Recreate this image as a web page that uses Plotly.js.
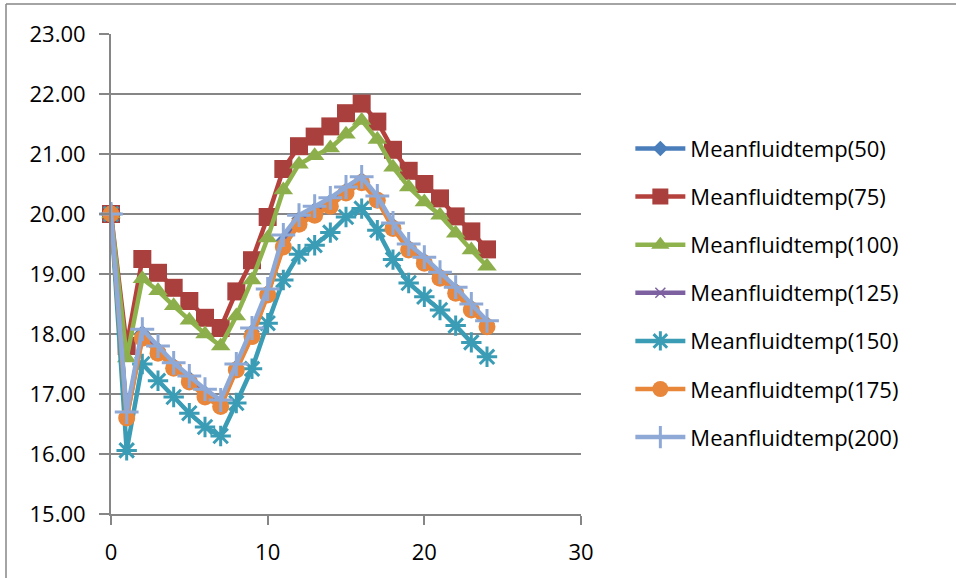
<!DOCTYPE html>
<html>
<head>
<meta charset="utf-8">
<script src="https://cdn.plot.ly/plotly-3.0.1.min.js"></script>
<style>html,body{margin:0;padding:0;background:#fff;}#chart{width:956px;height:578px;}</style>
</head>
<body>
<div id="chart"></div>
<script>
const hours = [0,1,2,3,4,5,6,7,8,9,10,11,12,13,14,15,16,17,18,19,20,21,22,23,24];
const names = ["Meanfluidtemp(50)","Meanfluidtemp(75)","Meanfluidtemp(100)","Meanfluidtemp(125)","Meanfluidtemp(150)","Meanfluidtemp(175)","Meanfluidtemp(200)"];
const t50  = [20.00,16.65,18.02,17.74,17.48,17.26,17.02,16.85,17.45,18.04,18.70,19.56,19.92,20.07,20.21,20.40,20.57,20.27,19.81,19.45,19.23,18.98,18.73,18.45,18.17];
const t75  = [20.00,17.80,19.25,19.02,18.77,18.55,18.27,18.10,18.71,19.23,19.95,20.75,21.13,21.29,21.46,21.68,21.84,21.54,21.07,20.72,20.50,20.26,19.96,19.71,19.41];
const t100 = [20.00,17.60,18.92,18.72,18.47,18.23,18.00,17.80,18.30,18.90,19.60,20.40,20.83,20.97,21.10,21.33,21.56,21.24,20.78,20.45,20.20,19.98,19.68,19.40,19.13];
const t125 = [20.00,16.62,17.96,17.70,17.45,17.22,16.97,16.81,17.42,17.98,18.67,19.48,19.86,20.00,20.15,20.37,20.54,20.25,19.78,19.42,19.20,18.95,18.70,18.42,18.14];
const t150 = [20.00,16.06,17.50,17.22,16.95,16.68,16.45,16.30,16.85,17.42,18.18,18.90,19.33,19.48,19.69,19.95,20.09,19.73,19.24,18.85,18.62,18.40,18.14,17.86,17.62];
const t175 = [20.00,16.60,17.93,17.68,17.43,17.20,16.95,16.79,17.40,17.96,18.65,19.45,19.83,19.98,20.13,20.35,20.52,20.23,19.76,19.40,19.18,18.93,18.68,18.40,18.12];
const t200 = [20.00,16.70,18.08,17.80,17.52,17.30,17.08,16.90,17.50,18.10,18.75,19.65,19.98,20.13,20.27,20.45,20.62,20.30,19.85,19.50,19.28,19.03,18.78,18.50,18.22];
const xTicks = [0,10,20,30];
const yTicks = [15,16,17,18,19,20,21,22,23];
const yTickText = ["15.00","16.00","17.00","18.00","19.00","20.00","21.00","22.00","23.00"];

const series = [t50,t75,t100,t125,t150,t175,t200];
const lineColors = ["#4A7EBB","#B5413D","#8FB34C","#7D60A0","#3B9CB5","#E8863A","#8FA9D6"];
const markerColors = ["#4A7EBB","#A9403D","#8CAF4C","#7D60A0","#3B9CB5","#E8873C","#8FA9D6"];
const symbols = ["diamond","square","triangle-up","x-thin-open","asterisk-open","circle","cross-thin-open"];
const sizes = [12,18,17,10,17,17,17];
const mlw = [0,0,0,1.5,3,0,3];

const traces = series.map((s,i)=>({
  x: hours, y: s, type:"scatter", mode:"lines+markers", name: names[i],
  legendgroup: "g"+i,
  line:{color: lineColors[i], width:4.5},
  marker:{symbol: symbols[i], size: sizes[i], color: markerColors[i], line:{width: mlw[i], color: lineColors[i]}},
  cliponaxis:false
}));

const fontFam = "'Open Sans', 'Noto Sans', sans-serif";
const layout = {
  width:956, height:578,
  margin:{l:111, r:375, t:34, b:64},
  paper_bgcolor:"#fff", plot_bgcolor:"#fff",
  showlegend:true,
  legend:{x:1.105, xanchor:"left", y:0.46, yanchor:"middle", font:{family:fontFam, size:22, color:"#000"}, tracegroupgap:16.5, itemwidth:50, bgcolor:"rgba(0,0,0,0)"},
  xaxis:{range:[0,30], tickvals:xTicks, ticktext:xTicks.map(String), showgrid:false, zeroline:false, showline:true, linecolor:"#868686", linewidth:2, ticks:"outside", ticklen:9, tickcolor:"#868686", tickwidth:2, tickfont:{family:fontFam, size:22, color:"#000"}, ticklabelstandoff:9, fixedrange:true},
  yaxis:{range:[15,23], tickvals:yTicks, ticktext:yTickText, showgrid:true, gridcolor:"#868686", gridwidth:2, zeroline:false, showline:true, linecolor:"#868686", linewidth:2, ticks:"outside", ticklen:10, tickcolor:"#868686", tickwidth:2, tickfont:{family:fontFam, size:22, color:"#000"}, ticklabelstandoff:9, fixedrange:true},
  shapes:[
    {type:"line", xref:"paper", yref:"paper", x0:-0.2234, x1:2.0, y0:1.0625, y1:1.0625, line:{color:"#868686", width:1.5}},
    {type:"line", xref:"paper", yref:"paper", x0:-0.2234, x1:-0.2234, y0:1.0625, y1:-0.2, line:{color:"#868686", width:1.5}}
  ]
};
Plotly.newPlot("chart", traces, layout, {staticPlot:true, displayModeBar:false});
</script>
</body>
</html>
